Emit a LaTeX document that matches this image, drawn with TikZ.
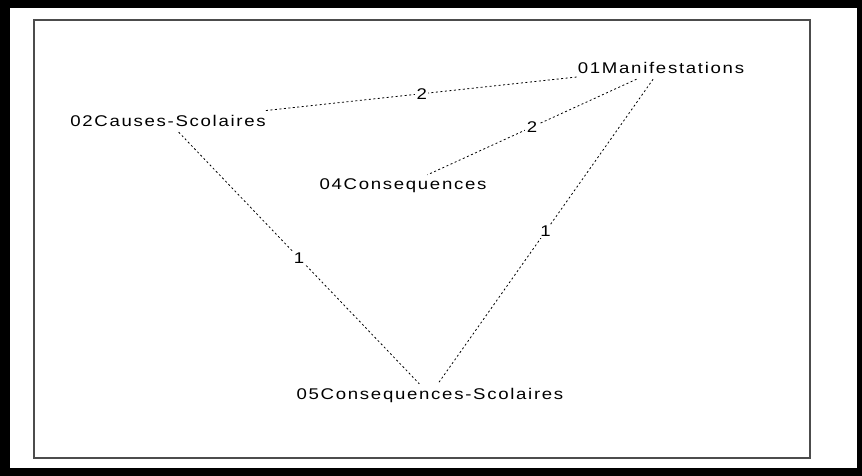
\documentclass[tikz,border=0pt]{standalone}
\usepackage{fontspec}
\newfontfamily\netfont{Liberation Sans}[FakeStretch=1.2,LetterSpace=11]

\begin{document}
\begin{tikzpicture}[x=1pt, y=-1pt,
        code/.style={font=\netfont\fontsize{15.5}{17}\selectfont, inner sep=0pt, minimum height=22pt},
        link/.style={dash pattern=on 2pt off 2.5pt, line width=0.8pt},
        weight/.style={font=\netfont\fontsize{15.5}{17}\selectfont, fill=white, inner sep=1.5pt}]
        % background and frame
        \fill[black] (0,0) rectangle (862,476);
        \fill[white] (10,8) rectangle (857,468);
        \draw[gray!60!black, line width=1.3pt] (34,20) rectangle (810,458);

        % codes
        \node[code] (M) at (661,68) {01Manifestations};
        \node[code] (CS) at (168,121) {02Causes-Scolaires};
        \node[code] (C) at (403,186) {04Consequences};
        \node[code] (CSc) at (430,395) {05Consequences-Scolaires};

        % links
        \draw[link] (CS) -- node[weight] {2} (M);
        \draw[link] (M) -- node[weight] {2} (C);
        \draw[link] (M) -- node[weight] {1} (CSc);
        \draw[link] (CS) -- node[weight] {1} (CSc);
    \end{tikzpicture}
\end{document}
